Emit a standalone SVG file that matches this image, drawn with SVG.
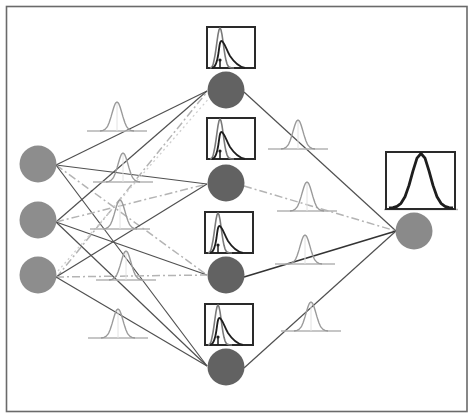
<svg xmlns="http://www.w3.org/2000/svg" width="474" height="419" viewBox="0 0 474 419">
<style>
.frame{fill:#fff;stroke:#6a6a6a;stroke-width:1.6}
.solid{stroke:#505050;stroke-width:1.2;fill:none}
.dark{stroke:#333;stroke-width:1.6;fill:none}
.dd{stroke:#b4b4b4;stroke-width:1.5;fill:none;stroke-dasharray:8 3 2 3}
.dot{stroke:#cfcfcf;stroke-width:1.3;fill:none;stroke-dasharray:2 3}
.in{fill:#8d8d8d}
.hid{fill:#626262}
.out{fill:#8a8a8a}
.box{fill:#fff;stroke:#2a2a2a;stroke-width:2}
.bcurve{fill:none;stroke:#9a9a9a;stroke-width:1.4;stroke-linejoin:round}
.bbase{stroke:#b3b3b3;stroke-width:1.4}
.bmid{stroke:#e2e2e2;stroke-width:1}
.gray{fill:none;stroke:#7a7a7a;stroke-width:1.6;stroke-linejoin:round}
.blk{fill:none;stroke:#1e1e1e;stroke-width:1.8;stroke-linejoin:round}
.arr{stroke:#1e1e1e;stroke-width:1.5}
.gauss{fill:none;stroke:#1e1e1e;stroke-width:2.8;stroke-linejoin:round}
</style>
<defs>
<g id="bell">
<line class="bbase" x1="-30" y1="0" x2="30" y2="0"/>
<line class="bmid" x1="0" y1="0" x2="0" y2="-29"/>
<polyline class="bcurve" points="-17,0 -14,-0.6 -12,-1.6 -10,-3.9 -9,-5.7 -8,-8 -7,-10.9 -6,-14.1 -5,-17.6 -4,-21 -3,-24.2 -2,-26.8 -1,-28.4 0,-29 1,-28.4 2,-26.8 3,-24.2 4,-21 5,-17.6 6,-14.1 7,-10.9 8,-8 9,-5.7 10,-3.9 12,-1.6 14,-0.6 17,0"/>
</g>
<g id="pbox">
<rect class="box" x="0" y="0" width="48" height="41"/>
<polyline class="gray" points="3,41 4,40.6 5,39.9 6,37.8 7,33.3 8,28.3 9,21.8 10,14.5 11,7.7 12,2.8 13,1 14,2.8 15,7.7 16,14.5 17,21.8 18,28.3 19,33.3 20,36.8 21,38.9 22,40 24,40.8 27,41"/>
<path class="blk" d="M5,41 C8,41 10,36 11.5,26 C12.5,18 13,14 14.5,14 C17,14 19,22 23,29 C27,35 31,39.5 38,41"/>
<line class="arr" x1="13" y1="41" x2="13" y2="33"/>
<circle cx="13" cy="33" r="1.6" fill="#1e1e1e"/>
</g>
</defs>

<rect class="frame" x="6.5" y="6.5" width="460.5" height="405"/>

<g id="connectors">
<line class="solid" x1="56" y1="165" x2="207" y2="91"/>
<line class="solid" x1="56" y1="165" x2="207" y2="184"/>
<line class="dd" x1="56" y1="165" x2="207" y2="275"/>
<line class="solid" x1="56" y1="165" x2="207" y2="366"/>
<line class="solid" x1="56" y1="222" x2="207" y2="91"/>
<line class="dd" x1="56" y1="222" x2="207" y2="184"/>
<line class="solid" x1="56" y1="222" x2="207" y2="275"/>
<line class="solid" x1="56" y1="222" x2="207" y2="366"/>
<line class="dd" x1="56" y1="278" x2="207" y2="92"/>
<line class="dot" x1="58" y1="271" x2="211" y2="96"/>
<line class="solid" x1="56" y1="277" x2="207" y2="184"/>
<line class="dd" x1="56" y1="277" x2="207" y2="275"/>
<line class="solid" x1="56" y1="277" x2="207" y2="366"/>
<line class="solid" x1="244" y1="92" x2="396" y2="231"/>
<line class="dd" x1="244" y1="186" x2="396" y2="231"/>
<line class="dark" x1="244" y1="277" x2="396" y2="231"/>
<line class="solid" x1="244" y1="368" x2="396" y2="231"/>
</g>

<g id="weights">
<use href="#bell" x="117" y="131"/>
<use href="#bell" x="123" y="182"/>
<use href="#bell" x="120" y="229"/>
<use href="#bell" x="126" y="280"/>
<use href="#bell" x="118" y="338"/>
<use href="#bell" x="298" y="149"/>
<use href="#bell" x="307" y="211"/>
<use href="#bell" x="305" y="264"/>
<use href="#bell" x="311" y="331"/>
</g>

<g id="in1"><circle class="in" cx="38" cy="164" r="18.5"/></g>
<g id="in2"><circle class="in" cx="38" cy="220" r="18.5"/></g>
<g id="in3"><circle class="in" cx="38" cy="275" r="18.5"/></g>

<g id="h1"><use href="#pbox" x="207" y="27"/><circle class="hid" cx="226" cy="90" r="18.5"/></g>
<g id="h2"><use href="#pbox" x="207" y="118"/><circle class="hid" cx="226" cy="183" r="18.5"/></g>
<g id="h3"><use href="#pbox" x="205" y="212"/><circle class="hid" cx="226" cy="275" r="18.5"/></g>
<g id="h4"><use href="#pbox" x="205" y="304"/><circle class="hid" cx="226" cy="367" r="18.5"/></g>

<g id="out">
<line class="bbase" x1="384" y1="209.5" x2="458" y2="209.5"/>
<rect class="box" x="386" y="152" width="69" height="57" stroke-width="2.4"/>
<polyline class="gauss" points="389,207.9 393,207.6 397,206.4 401,203.3 405,196.7 409,185.4 413,170.9 417,158.2 421,153.5 425,158.2 429,170.9 433,185.4 437,196.7 441,203.3 445,206.4 449,207.6 453,207.9"/>
<circle class="out" cx="414" cy="231" r="18.5"/>
</g>
</svg>
